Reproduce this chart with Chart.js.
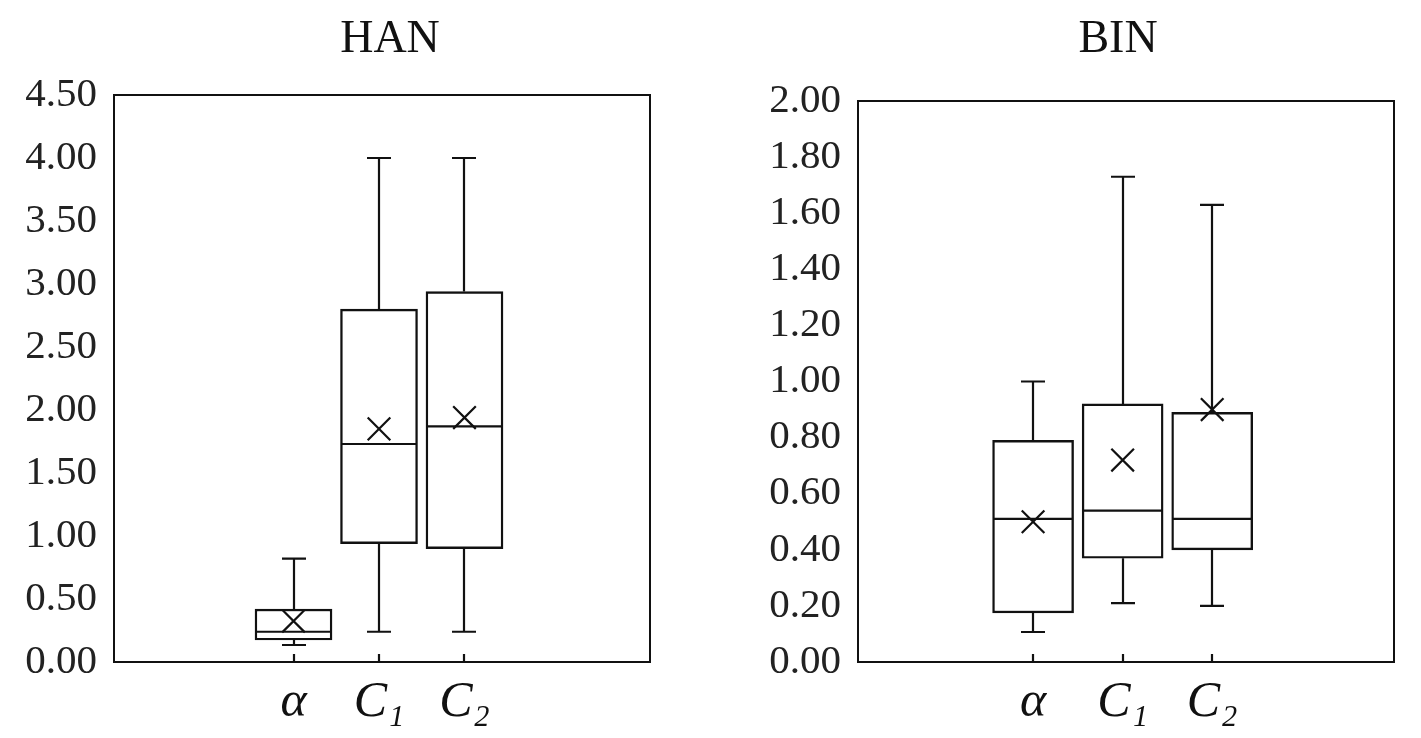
<!DOCTYPE html>
<html>
<head>
<meta charset="utf-8">
<script src="https://cdn.jsdelivr.net/npm/chart.js@4.4.0/dist/chart.umd.min.js"></script>
<style>
    html, body { margin: 0; padding: 0; width: 1421px; height: 738px; overflow: hidden; background: #fff; }
    .panel { position: absolute; top: 0; height: 738px; }
    #hanWrap { left: 0; width: 780px; }
    #binWrap { left: 740px; width: 756px; }
</style>
</head>
<body>
<div class="panel" id="hanWrap"><canvas id="hanChart"></canvas></div>
<div class="panel" id="binWrap"><canvas id="binChart"></canvas></div>
<script>
// Categories (x positions on a linear axis)
const categories = ['α', 'C₁', 'C₂'];
const categoryPos = [1, 2, 3];

// HAN box plot values
const hanMin = [0.135, 0.24, 0.24];
const hanQ1 = [0.175, 0.94, 0.90];
const hanMedian = [0.24, 1.73, 1.87];
const hanQ3 = [0.42, 2.80, 2.94];
const hanMax = [0.82, 4.00, 4.00];
const hanMean = [0.325, 1.85, 1.94];
const hanTicks = [0, 0.5, 1, 1.5, 2, 2.5, 3, 3.5, 4, 4.5];

// BIN box plot values
const binMin = [0.107, 0.21, 0.20];
const binQ1 = [0.175, 0.37, 0.40];
const binMedian = [0.51, 0.54, 0.51];
const binQ3 = [0.79, 0.92, 0.89];
const binMax = [1.00, 1.73, 1.63];
const binMean = [0.50, 0.72, 0.90];
const binTicks = [0, 0.2, 0.4, 0.6, 0.8, 1, 1.2, 1.4, 1.6, 1.8, 2];

const ink = '#111';
const serif = "'Liberation Serif', 'DejaVu Serif', serif";

// Whiskers, medians, inner tick marks and the plot frame
const boxWhiskers = {
    id: 'boxWhiskers',
    afterDatasetsDraw(chart, args, opts) {
        const { ctx, chartArea } = chart;
        const x = chart.scales.x;
        const y = chart.scales.y;
        const boxes = chart.getDatasetMeta(0).data;
        const cap = 12;
        ctx.save();
        ctx.strokeStyle = ink;
        ctx.lineWidth = 2.2;
        ctx.beginPath();
        boxes.forEach((bar, i) => {
            const cx = Math.round(bar.x);
            const half = bar.width / 2 - 1;
            const yMin = y.getPixelForValue(opts.min[i]);
            const yQ1 = y.getPixelForValue(opts.q1[i]);
            const yMed = y.getPixelForValue(opts.median[i]);
            const yQ3 = y.getPixelForValue(opts.q3[i]);
            const yMax = y.getPixelForValue(opts.max[i]);
            // upper whisker
            ctx.moveTo(cx, yQ3);
            ctx.lineTo(cx, yMax);
            ctx.moveTo(cx - cap, yMax);
            ctx.lineTo(cx + cap, yMax);
            // lower whisker
            ctx.moveTo(cx, yQ1);
            ctx.lineTo(cx, yMin);
            ctx.moveTo(cx - cap, yMin);
            ctx.lineTo(cx + cap, yMin);
            // median
            ctx.moveTo(bar.x - half, yMed);
            ctx.lineTo(bar.x + half, yMed);
        });
        categoryPos.forEach(v => {
            const px = Math.round(x.getPixelForValue(v));
            ctx.moveTo(px, chartArea.bottom);
            ctx.lineTo(px, chartArea.bottom - 8);
        });
        ctx.stroke();
        ctx.lineWidth = 2;
        ctx.strokeRect(chartArea.left, chartArea.top, chartArea.width, chartArea.height);
        ctx.restore();
    }
};

function makeBoxChart(canvasId, cfg) {
    new Chart(document.getElementById(canvasId), {
        type: 'bar',
        data: {
            datasets: [{
                label: 'box',
                data: categoryPos.map((p, i) => ({ x: p, y: [cfg.q1[i], cfg.q3[i]] })),
                backgroundColor: '#fff',
                borderColor: ink,
                borderWidth: 2.4,
                borderSkipped: false,
                barThickness: cfg.boxWidth,
                order: 2
            }, {
                type: 'scatter',
                label: 'mean',
                data: categoryPos.map((p, i) => ({ x: p, y: cfg.mean[i] })),
                pointStyle: 'crossRot',
                pointRadius: 16,
                pointHoverRadius: 16,
                borderColor: ink,
                borderWidth: 2.2,
                order: 1
            }]
        },
        options: {
            responsive: true,
            maintainAspectRatio: false,
            animation: false,
            events: [],
            layout: { padding: 0 },
            plugins: {
                legend: { display: false },
                tooltip: { enabled: false },
                title: {
                    display: true,
                    text: cfg.title,
                    color: ink,
                    font: { family: serif, size: 46, weight: 'normal' },
                    padding: { top: 12.4, bottom: cfg.titleGap }
                },
                boxWhiskers: {
                    min: cfg.min, q1: cfg.q1, median: cfg.median, q3: cfg.q3, max: cfg.max
                }
            },
            scales: {
                x: {
                    type: 'linear',
                    min: cfg.xMin,
                    max: cfg.xMax,
                    offset: false,
                    grid: { display: false },
                    border: { display: false },
                    afterBuildTicks: s => { s.ticks = categoryPos.map(v => ({ value: v })); },
                    afterFit: s => { s.height = 76; },
                    ticks: {
                        padding: 3,
                        color: ink,
                        maxRotation: 0,
                        autoSkip: false,
                        font: { family: serif, size: 50, style: 'italic' },
                        callback: (v, i) => categories[i]
                    }
                },
                y: {
                    type: 'linear',
                    min: 0,
                    max: cfg.yMax,
                    grid: { display: false, drawTicks: false },
                    border: { display: false },
                    afterBuildTicks: s => { s.ticks = cfg.ticks.map(v => ({ value: v })); },
                    afterFit: s => { s.width = cfg.yAxisWidth; },
                    ticks: {
                        padding: 17,
                        color: '#222',
                        font: { family: serif, size: 41 },
                        callback: v => v.toFixed(2)
                    }
                },
                yPad: {
                    type: 'linear',
                    position: 'right',
                    display: true,
                    grid: { display: false },
                    border: { display: false },
                    ticks: { display: false },
                    afterFit: s => { s.width = cfg.rightGap; }
                }
            }
        },
        plugins: [boxWhiskers]
    });
}

makeBoxChart('hanChart', {
    title: 'HAN',
    min: hanMin, q1: hanQ1, median: hanMedian, q3: hanQ3, max: hanMax, mean: hanMean,
    ticks: hanTicks, yMax: 4.5,
    xMin: -1.1, xMax: 5.17,
    boxWidth: 77, yAxisWidth: 114, rightGap: 130, titleGap: 27.4
});

makeBoxChart('binChart', {
    title: 'BIN',
    min: binMin, q1: binQ1, median: binMedian, q3: binQ3, max: binMax, mean: binMean,
    ticks: binTicks, yMax: 2,
    xMin: -0.955, xMax: 5.03,
    boxWidth: 81, yAxisWidth: 118, rightGap: 102, titleGap: 33.4
});
</script>
</body>
</html>
